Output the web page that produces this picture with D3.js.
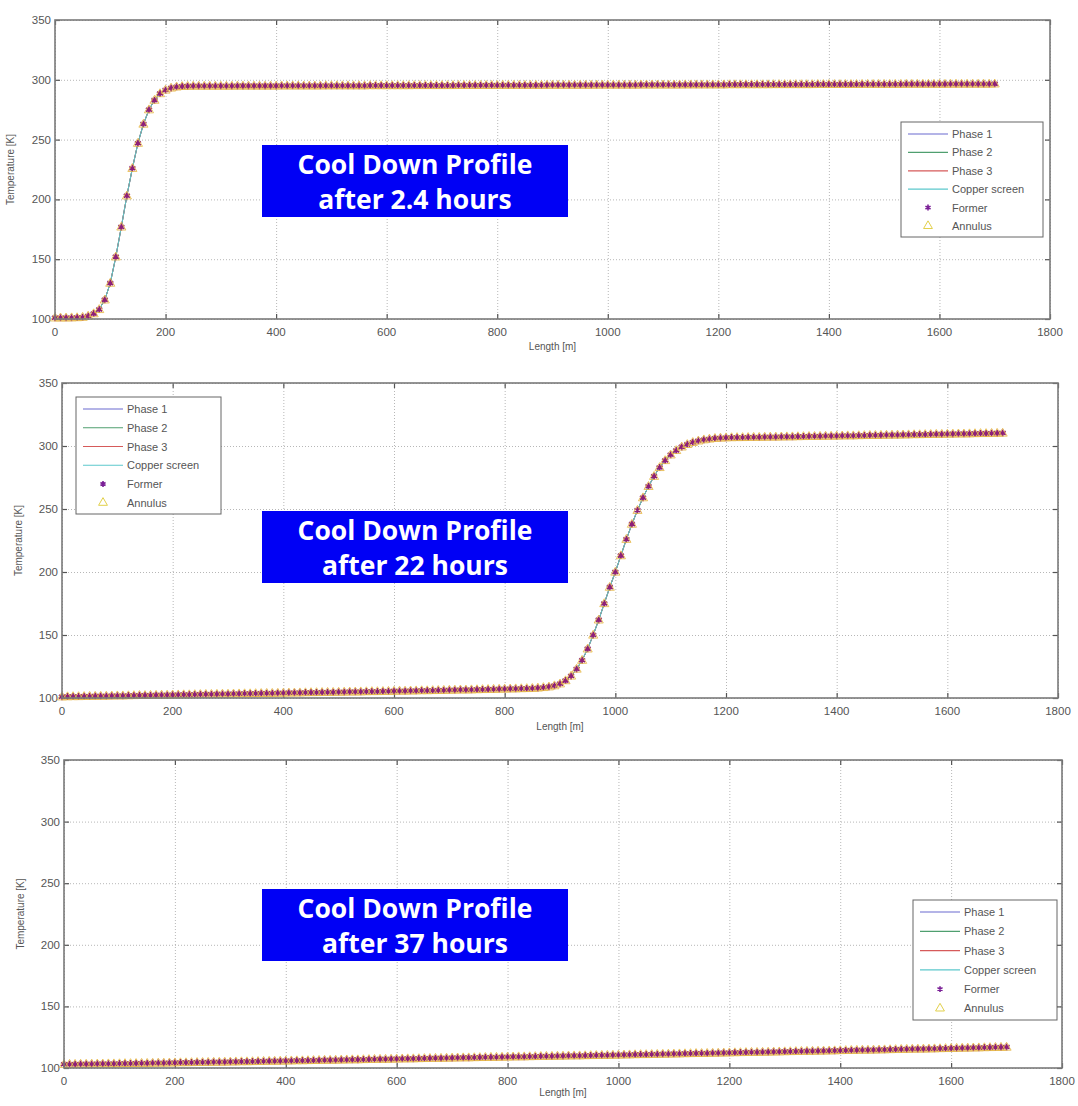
<!DOCTYPE html>
<html>
<head>
<meta charset="utf-8">
<script src="https://cdn.jsdelivr.net/npm/d3@7"></script>
<style>
  body { margin: 0; background: #fff; }
  svg { display: block; }
  .tick-label { font-family: "Liberation Sans", Arial, sans-serif; font-size: 11.5px; fill: #555; }
  .axis-title { font-family: "Liberation Sans", Arial, sans-serif; font-size: 10px; fill: #555; }
  .legend-text { font-family: "Liberation Sans", Arial, sans-serif; font-size: 11px; fill: #555; }
  .title-text { font-family: "Open Sans", Lato, sans-serif; font-weight: bold; font-size: 26.5px; fill: #fff; }
</style>
</head>
<body>
<div id="chart"></div>
<script>
// length along the cable [m], same grid for all three profiles
const lengthM = [
    0, 10, 20, 30, 40, 50, 60, 70, 80, 90,
    100, 110, 120, 130, 140, 150, 160, 170, 180, 190,
    200, 210, 220, 230, 240, 250, 260, 270, 280, 290,
    300, 310, 320, 330, 340, 350, 360, 370, 380, 390,
    400, 410, 420, 430, 440, 450, 460, 470, 480, 490,
    500, 510, 520, 530, 540, 550, 560, 570, 580, 590,
    600, 610, 620, 630, 640, 650, 660, 670, 680, 690,
    700, 710, 720, 730, 740, 750, 760, 770, 780, 790,
    800, 810, 820, 830, 840, 850, 860, 870, 880, 890,
    900, 910, 920, 930, 940, 950, 960, 970, 980, 990,
    1000, 1010, 1020, 1030, 1040, 1050, 1060, 1070, 1080, 1090,
    1100, 1110, 1120, 1130, 1140, 1150, 1160, 1170, 1180, 1190,
    1200, 1210, 1220, 1230, 1240, 1250, 1260, 1270, 1280, 1290,
    1300, 1310, 1320, 1330, 1340, 1350, 1360, 1370, 1380, 1390,
    1400, 1410, 1420, 1430, 1440, 1450, 1460, 1470, 1480, 1490,
    1500, 1510, 1520, 1530, 1540, 1550, 1560, 1570, 1580, 1590,
    1600, 1610, 1620, 1630, 1640, 1650, 1660, 1670, 1680, 1690,
    1700
]

// temperature [K] after 2.4 hours
const temp2h = [
    101.0, 101.0, 101.0, 101.1, 101.2, 101.5, 102.5, 104.5, 108.0, 116.0,
    130.0, 152.0, 177.0, 203.0, 226.0, 247.0, 263.0, 275.0, 283.0, 288.5,
    291.5, 293.2, 294.1, 294.5, 294.7, 294.8, 294.8, 294.8, 294.8, 294.8,
    294.8, 294.8, 294.8, 294.9, 294.9, 294.9, 294.9, 294.9, 294.9, 294.9,
    294.9, 295.0, 295.0, 295.0, 295.0, 295.0, 295.0, 295.0, 295.0, 295.1,
    295.1, 295.1, 295.1, 295.1, 295.1, 295.1, 295.1, 295.2, 295.2, 295.2,
    295.2, 295.2, 295.2, 295.2, 295.2, 295.3, 295.3, 295.3, 295.3, 295.3,
    295.3, 295.3, 295.3, 295.4, 295.4, 295.4, 295.4, 295.4, 295.4, 295.4,
    295.4, 295.5, 295.5, 295.5, 295.5, 295.5, 295.5, 295.5, 295.5, 295.6,
    295.6, 295.6, 295.6, 295.6, 295.6, 295.6, 295.6, 295.6, 295.7, 295.7,
    295.7, 295.7, 295.7, 295.7, 295.7, 295.7, 295.8, 295.8, 295.8, 295.8,
    295.8, 295.8, 295.8, 295.8, 295.9, 295.9, 295.9, 295.9, 295.9, 295.9,
    295.9, 295.9, 296.0, 296.0, 296.0, 296.0, 296.0, 296.0, 296.0, 296.0,
    296.1, 296.1, 296.1, 296.1, 296.1, 296.1, 296.1, 296.1, 296.2, 296.2,
    296.2, 296.2, 296.2, 296.2, 296.2, 296.2, 296.3, 296.3, 296.3, 296.3,
    296.3, 296.3, 296.3, 296.3, 296.4, 296.4, 296.4, 296.4, 296.4, 296.4,
    296.4, 296.4, 296.5, 296.5, 296.5, 296.5, 296.5, 296.5, 296.5, 296.5,
    296.6
]

// temperature [K] after 22 hours
const temp22h = [
    101.0, 101.1, 101.2, 101.2, 101.3, 101.4, 101.5, 101.5, 101.6, 101.7,
    101.8, 101.8, 101.9, 102.0, 102.1, 102.1, 102.2, 102.3, 102.4, 102.4,
    102.5, 102.6, 102.7, 102.7, 102.8, 102.9, 103.0, 103.0, 103.1, 103.2,
    103.2, 103.3, 103.4, 103.5, 103.5, 103.6, 103.7, 103.8, 103.8, 103.9,
    104.0, 104.1, 104.1, 104.2, 104.3, 104.4, 104.4, 104.5, 104.6, 104.6,
    104.7, 104.8, 104.9, 104.9, 105.0, 105.1, 105.2, 105.2, 105.3, 105.4,
    105.5, 105.6, 105.6, 105.7, 105.8, 105.9, 105.9, 106.0, 106.1, 106.2,
    106.3, 106.4, 106.5, 106.5, 106.6, 106.7, 106.8, 106.9, 107.0, 107.1,
    107.2, 107.3, 107.4, 107.5, 107.6, 107.7, 108.0, 108.4, 108.9, 109.8,
    111.3, 113.8, 117.5, 123.0, 130.0, 139.0, 150.0, 162.0, 175.0, 188.0,
    200.0, 213.0, 226.0, 238.0, 249.0, 259.0, 268.0, 276.0, 283.0, 288.5,
    293.0, 296.5, 299.3, 301.3, 302.9, 304.1, 305.0, 305.6, 306.1, 306.4,
    306.6, 306.7, 306.8, 306.8, 306.9, 307.0, 307.0, 307.1, 307.2, 307.2,
    307.3, 307.4, 307.4, 307.5, 307.6, 307.7, 307.7, 307.8, 307.9, 307.9,
    308.0, 308.1, 308.2, 308.2, 308.3, 308.4, 308.5, 308.5, 308.6, 308.7,
    308.8, 308.8, 308.9, 309.0, 309.1, 309.1, 309.2, 309.3, 309.4, 309.4,
    309.5, 309.6, 309.7, 309.7, 309.8, 309.9, 310.0, 310.0, 310.1, 310.2,
    310.3
]

// temperature [K] after 37 hours
const temp37h = [
    103.0, 103.1, 103.1, 103.2, 103.2, 103.3, 103.4, 103.4, 103.5, 103.5,
    103.6, 103.7, 103.7, 103.8, 103.9, 103.9, 104.0, 104.1, 104.1, 104.2,
    104.3, 104.4, 104.4, 104.5, 104.6, 104.6, 104.7, 104.8, 104.8, 104.9,
    105.0, 105.1, 105.2, 105.2, 105.3, 105.4, 105.5, 105.6, 105.6, 105.7,
    105.8, 105.9, 106.0, 106.0, 106.1, 106.2, 106.3, 106.4, 106.4, 106.5,
    106.6, 106.7, 106.8, 106.8, 106.9, 107.0, 107.1, 107.2, 107.2, 107.3,
    107.4, 107.5, 107.6, 107.6, 107.7, 107.8, 107.9, 108.0, 108.0, 108.1,
    108.2, 108.3, 108.4, 108.4, 108.5, 108.6, 108.7, 108.8, 108.8, 108.9,
    109.0, 109.1, 109.2, 109.2, 109.3, 109.4, 109.5, 109.6, 109.6, 109.7,
    109.8, 109.9, 110.0, 110.0, 110.1, 110.2, 110.3, 110.4, 110.4, 110.5,
    110.6, 110.7, 110.8, 110.9, 111.0, 111.0, 111.1, 111.2, 111.3, 111.4,
    111.5, 111.6, 111.7, 111.8, 111.9, 111.9, 112.0, 112.1, 112.2, 112.3,
    112.4, 112.5, 112.6, 112.7, 112.8, 112.8, 112.9, 113.0, 113.1, 113.2,
    113.3, 113.4, 113.5, 113.6, 113.7, 113.7, 113.8, 113.9, 114.0, 114.1,
    114.2, 114.3, 114.4, 114.5, 114.6, 114.6, 114.7, 114.8, 114.9, 115.0,
    115.1, 115.2, 115.3, 115.4, 115.5, 115.5, 115.6, 115.7, 115.8, 115.9,
    116.0, 116.1, 116.2, 116.3, 116.4, 116.5, 116.6, 116.7, 116.8, 116.9,
    117.0
]

// axis ticks and legend names
const xTicks = [0, 200, 400, 600, 800, 1000, 1200, 1400, 1600, 1800]
const yTicks = [100, 150, 200, 250, 300, 350]
const seriesNames = ["Phase 1", "Phase 2", "Phase 3", "Copper screen", "Former", "Annulus"]
const titles = [
    ["Cool Down Profile", "after 2.4 hours"],
    ["Cool Down Profile", "after 22 hours"],
    ["Cool Down Profile", "after 37 hours"]
]

// line colours for the four line series
const lineColors = ["#6a6ad0", "#4f9f6f", "#d65a5a", "#5cc8cc"]
const formerColor = "#8e1f78"
const annulusColor = "#e6b948"

// layout of the three panels (pixels)
const panels = [
    { temps: temp2h, left: 55, right: 1050, top: 20, bottom: 319,
      legend: { x: 901, y: 122, w: 142, h: 115 }, box: { x: 262, y: 145 },
      xTitleY: 350, yTitleX: 14 },
    { temps: temp22h, left: 62, right: 1058, top: 383, bottom: 698,
      legend: { x: 76, y: 397, w: 145, h: 117 }, box: { x: 262, y: 511 },
      xTitleY: 730, yTitleX: 22 },
    { temps: temp37h, left: 64, right: 1062, top: 760, bottom: 1068,
      legend: { x: 913, y: 900, w: 144, h: 120 }, box: { x: 262, y: 889 },
      xTitleY: 1096, yTitleX: 24 }
]

const svg = d3.select("#chart")
    .append("svg")
    .attr("width", 1078)
    .attr("height", 1106)

const asterisk = d3.symbolAsterisk || d3.symbolCross

panels.forEach((p, idx) => {
    const x = d3.scaleLinear().domain([0, 1800]).range([p.left, p.right])
    const y = d3.scaleLinear().domain([100, 350]).range([p.bottom, p.top])
    const w = p.right - p.left
    const h = p.bottom - p.top
    const g = svg.append("g")

    // dotted grid
    g.append("g")
        .attr("transform", `translate(0,${p.bottom})`)
        .call(d3.axisBottom(x).tickValues(xTicks).tickSize(-h).tickFormat(""))
        .call(a => a.select(".domain").remove())
        .selectAll("line")
        .attr("stroke", "#a5a5a5")
        .attr("stroke-dasharray", "1,2")
        .attr("stroke-width", 0.8)
    g.append("g")
        .attr("transform", `translate(${p.left},0)`)
        .call(d3.axisLeft(y).tickValues(yTicks).tickSize(-w).tickFormat(""))
        .call(a => a.select(".domain").remove())
        .selectAll("line")
        .attr("stroke", "#a5a5a5")
        .attr("stroke-dasharray", "1,2")
        .attr("stroke-width", 0.8)

    // inward ticks on all four sides
    const tickAxes = [
        [d3.axisBottom(x).tickValues(xTicks), `translate(0,${p.bottom})`],
        [d3.axisTop(x).tickValues(xTicks), `translate(0,${p.top})`],
        [d3.axisLeft(y).tickValues(yTicks), `translate(${p.left},0)`],
        [d3.axisRight(y).tickValues(yTicks), `translate(${p.right},0)`]
    ]
    tickAxes.forEach(([ax, tr]) => {
        g.append("g")
            .attr("transform", tr)
            .call(ax.tickSize(-5).tickFormat(""))
            .call(a => a.select(".domain").remove())
            .selectAll("line")
            .attr("stroke", "#555")
            .attr("stroke-width", 1.2)
    })

    // tick labels
    g.selectAll(".xlab")
        .data(xTicks)
        .join("text")
        .attr("class", "tick-label")
        .attr("x", d => x(d))
        .attr("y", p.bottom + 17)
        .attr("text-anchor", "middle")
        .text(d => d)
    g.selectAll(".ylab")
        .data(yTicks)
        .join("text")
        .attr("class", "tick-label")
        .attr("x", p.left - 4)
        .attr("y", d => y(d) + 4)
        .attr("text-anchor", "end")
        .text(d => d)

    // axis titles
    g.append("text")
        .attr("class", "axis-title")
        .attr("x", (p.left + p.right) / 2)
        .attr("y", p.xTitleY)
        .attr("text-anchor", "middle")
        .text("Length [m]")
    g.append("text")
        .attr("class", "axis-title")
        .attr("transform", `translate(${p.yTitleX},${(p.top + p.bottom) / 2}) rotate(-90)`)
        .attr("text-anchor", "middle")
        .text("Temperature [K]")

    // data series: four lines then the two marker series
    const pts = lengthM.map((d, i) => [d, p.temps[i]])
    const line = d3.line().x(d => x(d[0])).y(d => y(d[1]))
    lineColors.forEach(c => {
        g.append("path")
            .datum(pts)
            .attr("fill", "none")
            .attr("stroke", c)
            .attr("stroke-width", 1)
            .attr("d", line)
    })
    g.selectAll(".former")
        .data(pts)
        .join("path")
        .attr("transform", d => `translate(${x(d[0])},${y(d[1])})`)
        .attr("d", d3.symbol(asterisk, 34))
        .attr("fill", "none")
        .attr("stroke", formerColor)
        .attr("stroke-width", 1.8)
    g.selectAll(".annulus")
        .data(pts)
        .join("path")
        .attr("transform", d => `translate(${x(d[0])},${y(d[1]) + 0.5})`)
        .attr("d", d3.symbol(d3.symbolTriangle, 36))
        .attr("fill", "none")
        .attr("stroke", annulusColor)
        .attr("stroke-width", 1)
        .attr("stroke-opacity", 0.85)

    // axes box
    g.append("rect")
        .attr("x", p.left)
        .attr("y", p.top)
        .attr("width", w)
        .attr("height", h)
        .attr("fill", "none")
        .attr("stroke", "#7a7a7a")
        .attr("stroke-width", 1.6)

    // legend
    const lg = g.append("g").attr("transform", `translate(${p.legend.x},${p.legend.y})`)
    lg.append("rect")
        .attr("width", p.legend.w)
        .attr("height", p.legend.h)
        .attr("fill", "#fff")
        .attr("stroke", "#666")
        .attr("stroke-width", 1)
    const rowH = (p.legend.h - 12) / 5.6
    seriesNames.forEach((name, i) => {
        const ry = 12 + i * rowH
        if (i < 4) {
            lg.append("line")
                .attr("x1", 7).attr("x2", 47)
                .attr("y1", ry).attr("y2", ry)
                .attr("stroke", lineColors[i])
                .attr("stroke-width", 1.2)
        } else if (i === 4) {
            lg.append("path")
                .attr("transform", `translate(27,${ry})`)
                .attr("d", d3.symbol(asterisk, 24))
                .attr("fill", "none")
                .attr("stroke", "#7a1f96")
                .attr("stroke-width", 1.6)
        } else {
            lg.append("path")
                .attr("transform", `translate(27,${ry})`)
                .attr("d", d3.symbol(d3.symbolTriangle, 34))
                .attr("fill", "none")
                .attr("stroke", "#e2d04a")
                .attr("stroke-width", 1)
        }
        lg.append("text")
            .attr("class", "legend-text")
            .attr("x", 51)
            .attr("y", ry + 4)
            .text(name)
    })

    // blue title box
    const tb = g.append("g").attr("transform", `translate(${p.box.x},${p.box.y})`)
    tb.append("rect")
        .attr("width", 306)
        .attr("height", 72)
        .attr("fill", "#0000f5")
    titles[idx].forEach((t, i) => {
        tb.append("text")
            .attr("class", "title-text")
            .attr("x", 153)
            .attr("y", 29 + i * 35)
            .attr("text-anchor", "middle")
            .text(t)
    })
})
</script>
</body>
</html>
